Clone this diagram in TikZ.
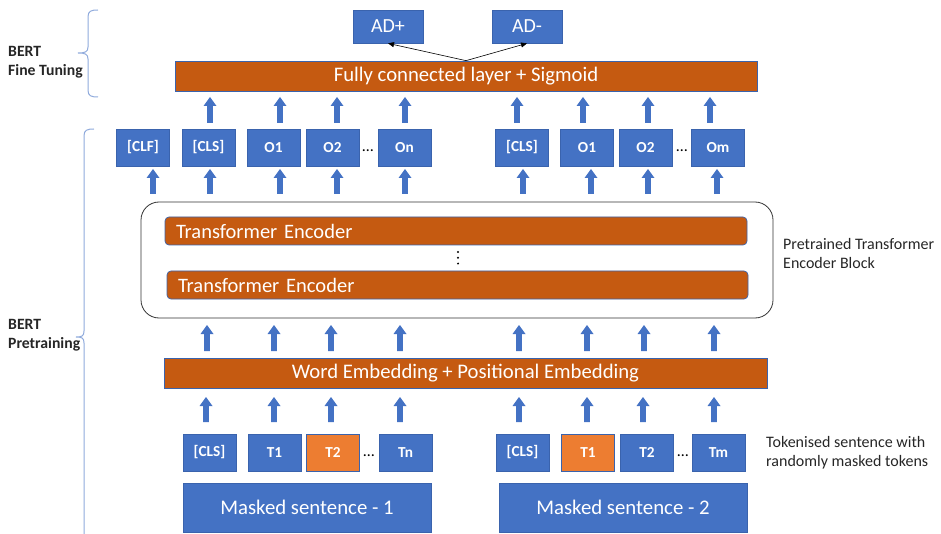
\documentclass[tikz,border=0pt]{standalone}
\usepackage{fontspec}
\setmainfont{Carlito}
\usetikzlibrary{arrows.meta}
\definecolor{tokblue}{HTML}{4472C4}
\definecolor{tokedge}{HTML}{3A63AD}
\definecolor{layerorange}{HTML}{C55A11}
\definecolor{maskorange}{HTML}{ED7D31}
\definecolor{bracecol}{HTML}{8FAADC}
\definecolor{labelgray}{HTML}{262626}
% upward block arrow: x, top y, bottom y
\newcommand\blockup[3]{%
  \fill[tokblue] ({#1-2.8},#3) -- ({#1-2.8},{#2+9}) -- ({#1-6.5},{#2+9}) -- (#1,#2)
    -- ({#1+6.5},{#2+9}) -- ({#1+2.8},{#2+9}) -- ({#1+2.8},#3) -- cycle;}
\begin{document}
\begin{tikzpicture}[x=1pt,y=-1pt,
  tok/.style={draw=tokedge,line width=0.7pt,fill=tokblue,text=white,inner sep=0pt,
    minimum width=53pt,minimum height=37pt,font=\fontsize{15.3}{17}\selectfont\bfseries},
  masktok/.style={tok,fill=maskorange,draw=tokedge},
  sentence/.style={draw=tokedge,line width=0.7pt,fill=tokblue,text=white,inner sep=0pt,
    minimum width=248pt,minimum height=49pt,font=\fontsize{20.8}{24}\selectfont},
  layer/.style={draw=tokedge,line width=0.7pt,fill=layerorange,text=white,inner sep=0pt,
    minimum height=30pt,font=\fontsize{20.7}{24}\selectfont},
  encoder/.style={draw=tokedge,line width=0.7pt,fill=layerorange,text=white,inner sep=0pt,
    rounded corners=4pt,minimum height=28pt,font=\fontsize{20.5}{24}\selectfont},
  outbox/.style={draw=tokedge,line width=0.7pt,fill=tokblue,text=white,inner sep=0pt,
    minimum width=70pt,minimum height=33pt,font=\fontsize{20}{22}\selectfont},
  side/.style={text=labelgray,align=left,anchor=west,inner sep=0pt,
    font=\fontsize{16}{19}\selectfont},
  sidebold/.style={side,font=\fontsize{15.7}{19}\selectfont\bfseries},
  brace/.style={draw=bracecol,line width=1pt},
  dots/.style={inner sep=0pt,font=\fontsize{16}{16}\selectfont}]
\useasboundingbox (0,0) rectangle (941,534);

% ---- fine-tuning head ----
\node[outbox] (adp) at (388,26.5) {AD+};
\node[outbox] (adm) at (527,26.5) {AD-};
\node[layer,minimum width=582pt] (fc) at (466,76) {Fully connected layer + Sigmoid};
\draw[-{Triangle[length=6pt,width=5pt]},line width=0.6pt] (fc.north) -- (adp.south);
\draw[-{Triangle[length=6pt,width=5pt]},line width=0.6pt] (fc.north) -- (adm.south);

% ---- encoder outputs ----
\node[tok] (clf)  at (143,147.5)   {[CLF]};
\node[tok] (clsa) at (208.5,147.5) {[CLS]};
\node[tok] (oa1)  at (273.5,147.5) {O1};
\node[tok] (oa2)  at (332.5,147.5) {O2};
\node[tok] (oan)  at (404.5,147.5) {On};
\node[tok] (clsb) at (522,147.5)   {[CLS]};
\node[tok] (ob1)  at (587,147.5)   {O1};
\node[tok] (ob2)  at (645.5,147.5) {O2};
\node[tok] (obm)  at (718,147.5)   {Om};
\node[dots] (dta) at (368,151) {\ldots};
\node[dots] (dtb) at (682,151) {\ldots};

% ---- pretrained encoder block ----
\draw[line width=0.8pt,draw=black!80,rounded corners=18pt] (141,202) rectangle (773,318);
\node[encoder,minimum width=582pt,text width=560pt,align=left] (enc1) at (456,231) {Transformer Encoder};
\node[encoder,minimum width=581pt,text width=559pt,align=left] (enc2) at (457.5,285) {Transformer Encoder};
\foreach \y in {252,257.8,263.6} {\fill (458,\y) circle (1.1pt);}
\node[side] (blocklbl) at (783,254) {Pretrained Transformer\\Encoder Block};

% ---- embedding layer ----
\node[layer,minimum width=603pt] (emb) at (465.5,373) {Word Embedding + Positional Embedding};

% ---- input tokens ----
\node[tok]     (cla) at (209.5,452.5) {[CLS]};
\node[tok]     (ta1) at (274.5,452.5) {T1};
\node[masktok] (ta2) at (333,452.5)   {T2};
\node[tok]     (tan) at (405.5,452.5) {Tn};
\node[tok]     (clb) at (522.5,452.5) {[CLS]};
\node[masktok] (tb1) at (588,452.5)   {T1};
\node[tok]     (tb2) at (647,452.5)   {T2};
\node[tok]     (tbm) at (718.5,452.5) {Tm};
\node[dots] (dba) at (369,456) {\ldots};
\node[dots] (dbb) at (683,456) {\ldots};
\node[side] (toklbl) at (766,452.5) {Tokenised sentence with\\randomly masked tokens};

\node[sentence] (sa) at (307,507.5) {Masked sentence - 1};
\node[sentence] (sb) at (623,507.5) {Masked sentence - 2};

% ---- block arrows ----
\foreach \x in {210,280,337,405,517,583,648,710} {\blockup{\x}{97}{123}}
\foreach \x in {153,210,280,337,405,523,591,648,717} {\blockup{\x}{169}{194}}
\foreach \x in {207,274,331,400,519,587,644,714} {\blockup{\x}{325}{351}}
\foreach \x in {206,274,331,400,519,587,643,714} {\blockup{\x}{397}{422}}

% ---- braces and stage labels ----
\draw[brace] (98,10) .. controls (91,10) and (88,11) .. (88,17) -- (88,47)
  .. controls (88,52) and (85,53) .. (78,53)
  .. controls (85,53) and (88,54) .. (88,59) -- (88,90)
  .. controls (88,96) and (91,97) .. (98,97);
\draw[brace] (94,129) .. controls (87,129) and (84,130) .. (84,136) -- (84,331)
  .. controls (84,336) and (82,337) .. (76,337)
  .. controls (82,337) and (84,338) .. (84,343) -- (84,534);
\node[sidebold] (ftlbl) at (8,62) {BERT\\Fine Tuning};
\node[sidebold] (ptlbl) at (8,335) {BERT\\Pretraining};
\end{tikzpicture}
\end{document}
